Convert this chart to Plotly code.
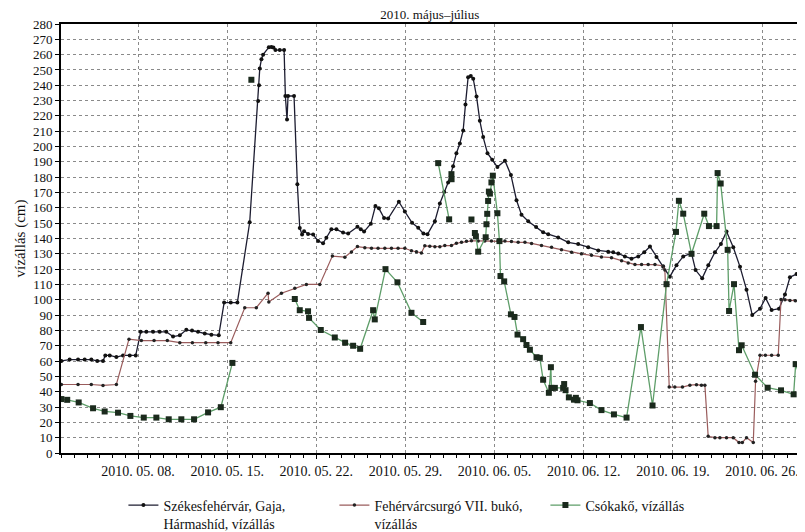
import pandas as pd
import plotly.graph_objects as go

# ---- data: x = days since 2010-05-01 00:00, y = water level (cm) ----
szf_days = [0.98, 1.63, 2.29, 2.81, 3.33, 3.80, 4.25, 4.43, 4.78, 5.30, 5.82, 6.35, 6.82,
            7.21, 7.65, 8.18, 8.70, 9.22, 9.75, 10.28, 10.79, 11.24, 11.71, 12.24, 12.76, 13.34,
            13.76, 14.28, 14.80,
            15.77, 16.43, 16.50, 16.56, 16.69, 16.82, 17.27, 17.47, 17.63, 17.79, 18.13, 18.47, 18.57, 18.70, 18.78, 19.25,
            19.51, 19.70, 19.88, 20.04, 20.35, 20.75, 21.14, 21.53, 21.79, 22.18, 22.58,
            23.10, 23.50, 24.23, 24.49, 24.75, 25.28, 25.64, 25.91, 26.32, 26.64, 27.48, 27.95, 28.52, 29.00, 29.41, 29.73,
            30.31, 30.70, 31.04, 31.35, 31.74, 32.00, 32.27, 32.53, 32.71, 32.92, 33.13, 33.32, 33.58, 33.84, 34.10, 34.44, 34.81, 35.22,
            35.81, 36.28, 36.72, 37.11, 37.64, 38.26, 38.81, 39.21, 39.99, 40.78, 41.56, 42.35, 43.14, 43.92, 44.31, 44.71, 45.23, 45.75,
            46.28, 46.75, 47.20, 47.71, 48.24, 48.76, 49.28, 49.81, 50.46, 50.78, 51.30, 51.78, 52.30, 52.77, 53.21, 53.74, 54.27, 54.78,
            55.23, 55.84, 56.28, 56.75, 57.33, 57.80, 58.19, 58.71, 59.23, 59.89]
szf_cm = [60.1, 61, 61, 61, 61, 60.1, 60.1, 63.7, 63.7, 62.6, 63.7, 63.7, 63.7,
          79.1, 79.1, 79.1, 79.1, 79.1, 76, 76.8, 80.4, 80, 79.1, 78, 77.2, 76.8,
          98.2, 98.2, 98.2,
          150.6, 229.7, 240, 251, 257, 260, 264.8, 265, 264.6, 263, 263, 263, 233, 217.6, 233, 233,
          175.4, 146.8, 142.6, 144.7, 143, 142.6, 138.4, 136.9, 140.5, 146, 146,
          143.9, 143.2, 147.7, 146, 144.5, 149.6, 161.2, 159.7, 153.4, 153, 164, 157.6, 150.2, 147, 143.2, 142.8,
          151.3, 162.9, 170.3, 176.6, 187.2, 195.7, 202, 210.5, 227.4, 245.3, 246, 244.3, 232.7, 216.8, 206.2, 195.7, 191.4, 186.6,
          190.8, 181.5, 165, 155.5, 151.3, 147.5, 144, 142.8, 140.7, 137.5, 136.4, 134.3, 132.2, 131.4, 131, 130.2, 128.3, 126.8,
          128.3, 131, 134.7, 127.9, 121.5, 115.1, 122.6, 128.3, 130.4, 119.4, 114, 122.6, 131, 136.4, 144.5, 134.3, 121.5, 106.6,
          90, 94.2, 101.2, 93.3, 94.2, 103.4, 114.7, 116.8, 114, 110.4]

fcs_days = [0.98, 2.29, 3.33, 4.25, 5.30,
            6.29, 7.26, 8.26, 9.30, 10.28, 11.27, 12.32, 13.28, 14.28,
            15.38, 16.29, 17.21, 17.27, 18.26, 19.31, 20.22, 21.27, 22.26, 23.24,
            23.76, 24.23, 24.81, 25.33, 25.85, 26.38, 26.90, 27.42, 27.95, 28.47, 28.86, 29.25, 29.52, 29.91, 30.31, 30.70,
            31.09, 31.61, 32.00, 32.40, 32.79, 33.18, 33.71, 34.23, 34.75, 35.28, 35.81, 36.32, 36.85, 37.38, 37.90, 38.68,
            39.47, 40.25, 41.04, 41.82, 42.61, 43.39, 44.18, 44.97, 45.49, 46.02, 46.54, 47.06, 47.59, 48.24, 48.37,
            48.71, 49.15, 49.75, 50.33, 50.85, 51.24, 51.51,
            51.77, 52.30, 52.69, 53.21, 53.74, 54.19, 54.45, 54.78, 55.31,
            55.49, 55.84, 56.26, 56.75, 57.27,
            57.49, 57.80, 58.19, 58.61, 59.10, 59.76]
fcs_cm = [44.7, 44.7, 44.7, 44.1, 44.7,
          74.3, 73.4, 73.4, 73.4, 72, 72, 72, 72, 72,
          94.8, 94.8, 104.3, 98.6, 104.3, 107.5, 110, 110, 128.5, 127.8,
          131.2, 134.7, 134, 133.6, 133.6, 133.6, 133.6, 133.6, 133.6, 132, 131.4, 130.6, 135.2, 135, 134.6, 134.6,
          135.4, 135.4, 136.9, 137.5, 138.2, 138.5, 138.4, 138.4, 138.4, 138.4, 138.3, 138, 137.5, 137.5, 136.8, 135.4,
          134.3, 132.6, 131.1, 130, 129, 128, 127.5, 125.5, 124, 123, 123, 123, 123, 122.1, 119.4,
          43, 43, 43, 44.3, 44.6, 44.3, 44.3,
          10.9, 10, 10, 10, 10, 6.8, 6.8, 10, 6.8,
          46.8, 63.8, 63.8, 63.8, 63.8,
          100.2, 100, 99.5, 99.3, 99, 98.5]

csk_days = [0.98, 1.44, 2.34, 3.47, 4.38, 5.43, 6.40, 7.45, 8.44, 9.41, 10.40, 11.40, 12.50, 13.50, 14.41,
            None, 15.90, None,
            19.31, 19.70, 20.35, 20.43, 21.35, 22.45, 23.26, 23.89, 24.44, 25.46, 25.59, 26.43, 27.37, 28.47, 29.39,
            None, 30.57, 31.43, None, 31.61, 31.62, None, 33.18, None,
            33.45, 33.53, 33.71, 34.30, 34.36, 34.42, 34.49, 34.55, 34.63, 34.75, 34.86, 35.22, 35.38, 35.46, 35.75,
            36.28, 36.56, 36.80, 37.24, 37.50, 37.77, 38.29, 38.55, 38.81, 39.26, 39.42, 39.46, 39.73, 40.38, 40.46,
            40.57, 40.83, 41.23, 41.38, 41.51, 42.48, 43.39, 44.37, 45.36, 46.49, 47.40, 48.50, 49.24, 49.47, 49.81,
            50.46, 51.46, 51.83, 52.43, 52.51, 52.75, 53.30, 53.41, 53.80, 54.19, 54.40, 55.45, 56.44, 57.49, 58.48,
            58.64, 59.46, 59.98]
csk_cm = [35.2, 34.7, 33, 29.2, 27.1, 26.3, 24.2, 23.1, 23.1, 22, 22, 22, 26.5, 29.9, 58.8,
          None, 243.6, None,
          100.5, 93.2, 92.5, 88.2, 80.3, 75.4, 72, 70, 68, 93.2, 87.2, 120, 111.4, 91.5, 85.5,
          None, 189.2, 152.5, None, 182, 178.7, None, 152.4, None,
          143.6, 141.4, 131.4, 140.8, 149.3, 156.1, 164.5, 170.6, 169.3, 176.6, 181, 156.5, 138.3, 115.5, 112,
          90.5, 88.8, 77.3, 74.3, 70.5, 67.4, 62.5, 62.1, 47.8, 39.3, 56, 42.5, 42.5, 42.5, 45,
          41, 36.3, 34.8, 36, 34.4, 32.6, 28, 25.2, 23.1, 82.2, 31, 110.2, 144.3, 164.6, 156.2,
          130, 156.2, 148.1, 148.1, 182.7, 175.9, 132.6, 92.7, 110.2, 67.1, 70.3, 51.1, 42.6, 40.9, 38.3,
          58, 38.3, 37.3]

tick_dates = ["2010-05-08", "2010-05-15", "2010-05-22", "2010-05-29",
              "2010-06-05", "2010-06-12", "2010-06-19", "2010-06-26"]
tick_labels = ["2010. 05. 08.", "2010. 05. 15.", "2010. 05. 22.", "2010. 05. 29.",
               "2010. 06. 05.", "2010. 06. 12.", "2010. 06. 19.", "2010. 06. 26."]
y_ticks = list(range(0, 281, 10))

series_names = ["Székesfehérvár, Gaja,<br>Hármashíd, vízállás",
                "Fehérvárcsurgó VII. bukó,<br>vízállás",
                "Csókakő, vízállás"]

assert len(szf_days) == len(szf_cm)
assert len(fcs_days) == len(fcs_cm)
assert len(csk_days) == len(csk_cm)

base = pd.Timestamp("2010-05-01")


def to_dates(days):
    return [None if d is None else (base + pd.Timedelta(days=d)).strftime("%Y-%m-%d %H:%M") for d in days]


FONT = "Liberation Serif, Times New Roman, serif"

fig = go.Figure()
fig.add_trace(go.Scatter(
    x=to_dates(szf_days), y=szf_cm, name=series_names[0], mode="lines+markers",
    line=dict(color="#1c1c30", width=1.3),
    marker=dict(symbol="circle", size=4, color="#111111"),
))
fig.add_trace(go.Scatter(
    x=to_dates(fcs_days), y=fcs_cm, name=series_names[1], mode="lines+markers",
    line=dict(color="#9a5c5c", width=1.2),
    marker=dict(symbol="circle", size=3.5, color="#222222"),
))
fig.add_trace(go.Scatter(
    x=to_dates(csk_days), y=csk_cm, name=series_names[2], mode="lines+markers",
    line=dict(color="#5e9e69", width=1.3),
    marker=dict(symbol="square", size=6, color="#1b2a1d"),
    connectgaps=False,
))

fig.update_layout(
    width=805, height=532,
    margin=dict(l=53, r=0, t=16, b=76),
    paper_bgcolor="white", plot_bgcolor="white",
    font=dict(family=FONT, size=14, color="#111111"),
    title=dict(text="2010. május–július", x=0.524, xanchor="center",
               y=0.9875, yref="container", yanchor="middle", pad=dict(t=0, b=0),
               font=dict(family=FONT, size=13, color="#111111")),
    showlegend=True,
    legend=dict(orientation="h", x=0.083, xanchor="left", y=-0.085, yanchor="top",
                entrywidth=166, entrywidthmode="pixels", valign="top",
                font=dict(family=FONT, size=14, color="#111111"),
                bgcolor="rgba(0,0,0,0)", tracegroupgap=0),
)

fig.update_xaxes(
    type="date",
    range=["2010-05-01 22:50", "2010-06-30 00:00"],
    tickmode="array", tickvals=tick_dates, ticktext=tick_labels,
    tickfont=dict(family=FONT, size=14, color="#111111"),
    ticks="outside", ticklen=4, tickcolor="black",
    showline=True, linecolor="black", linewidth=2, mirror=True,
    showgrid=True, gridcolor="#8a8a8a", griddash="dot", gridwidth=1,
    minor=dict(tickmode="linear", tick0="2010-05-01", dtick=86400000,
               ticks="outside", ticklen=3, tickcolor="black", showgrid=False),
    zeroline=False,
)
fig.update_yaxes(
    range=[0, 280],
    tickmode="array", tickvals=y_ticks,
    tickfont=dict(family=FONT, size=13, color="#111111"),
    ticks="outside", ticklen=4, tickcolor="black",
    showline=True, linecolor="black", linewidth=2,
    showgrid=True, gridcolor="#8a8a8a", griddash="dot", gridwidth=1,
    zeroline=False,
    title=dict(text="vízállás (cm)", font=dict(family=FONT, size=15, color="#111111"), standoff=4),
)

fig.write_html("out.html")
